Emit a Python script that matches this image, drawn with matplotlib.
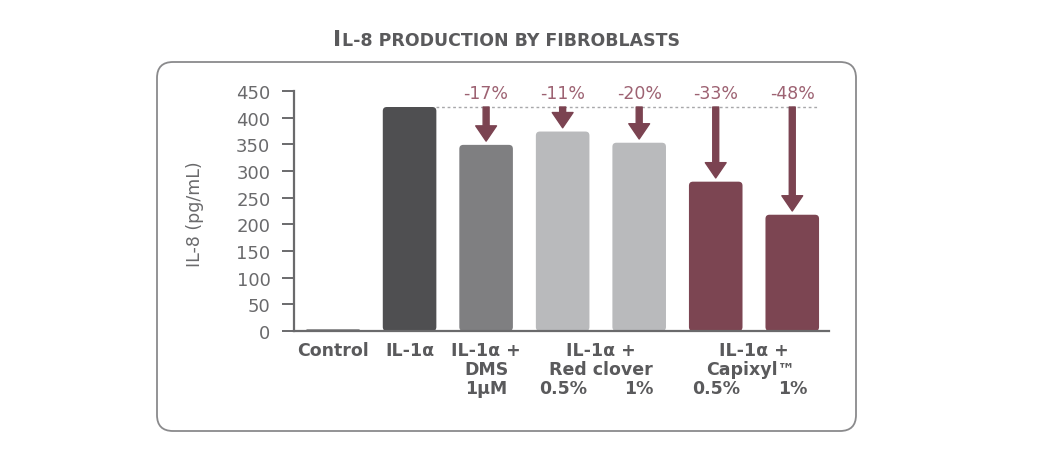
import matplotlib.pyplot as plt
from matplotlib.patches import FancyBboxPatch
from matplotlib.transforms import blended_transform_factory

# values (pg/mL)
groups = ['Control', 'IL-1α', 'DMS 1µM', 'Red clover 0.5%', 'Red clover 1%',
          'Capixyl 0.5%', 'Capixyl 1%']
il8 = [3, 420, 349, 374, 353, 280, 218]
bar_colors = ['#58585a', '#4f4f51', '#7f7f81', '#b9babc', '#b9babc',
              '#7c4552', '#7c4552']
reductions = ['-17%', '-11%', '-20%', '-33%', '-48%']
yticks = [0, 50, 100, 150, 200, 250, 300, 350, 400, 450]

ref_value = il8[1]
grey = '#5a5a5c'
arrow_col = '#7b4351'
pct_col = '#9d6272'

plt.rcParams['font.family'] = ['DejaVu Sans']

fig = plt.figure(figsize=(10.47, 4.6), dpi=100)
ax = fig.add_axes([294 / 1047, 1 - 332 / 460, (829 - 294) / 1047, 240 / 460])

x = list(range(len(groups)))
bars = ax.bar(x, il8, width=0.7, color=bar_colors)

# swap plain rectangles for slightly rounded ones
xpx = 76.5
ypx = 240 / 450
for rect in bars:
    rx, ry = rect.get_x(), rect.get_y()
    w, h = rect.get_width(), rect.get_height()
    r = 4 / xpx
    patch = FancyBboxPatch((rx, ry), w, h,
                           boxstyle='round,pad=0,rounding_size=%f' % min(r, h * ypx / xpx / 2 + 1e-6),
                           mutation_aspect=xpx / ypx,
                           facecolor=rect.get_facecolor(), edgecolor='none')
    rect.remove()
    ax.add_patch(patch)

ax.set_xlim(-0.51, 6.48)
ax.set_ylim(0, 450)
ax.set_yticks(yticks)
ax.set_xticks([])
for s in ['top', 'right']:
    ax.spines[s].set_visible(False)
for s in ['left', 'bottom']:
    ax.spines[s].set_color('#6a6a6c')
    ax.spines[s].set_linewidth(1.6)
ax.tick_params(axis='y', length=9, width=1.4, color='#6a6a6c', pad=8,
               labelsize=13, labelcolor='#6a6a6c')

# dashed reference line at the IL-1a level
ax.plot([1.35, 6.35], [ref_value, ref_value], linestyle=(0, (2, 2)),
        color='#a8a8aa', lw=1.0, clip_on=False)

# arrows and percentage labels
for i, lab in zip(range(2, 7), reductions):
    ax.annotate('', xy=(i, il8[i] + 7), xytext=(i, ref_value),
                arrowprops=dict(arrowstyle='simple,head_width=15,head_length=11,tail_width=4.3',
                                mutation_scale=1, color=arrow_col,
                                shrinkA=0, shrinkB=0))
    ax.text(i, 446, lab, ha='center', va='center', fontsize=12.5,
            color=pct_col, clip_on=False)

# category labels under the axis
tr = blended_transform_factory(ax.transData, ax.transAxes)
rows = [-0.079, -0.158, -0.2375]
lab_kw = dict(ha='center', va='center', fontsize=12.5, fontweight='bold',
              color=grey, transform=tr)
ax.text(0, rows[0], 'Control', **lab_kw)
ax.text(1, rows[0], 'IL-1α', **lab_kw)
ax.text(2, rows[0], 'IL-1α +', **lab_kw)
ax.text(2, rows[1], 'DMS', **lab_kw)
ax.text(2, rows[2], '1µM', **lab_kw)
ax.text(3.5, rows[0], 'IL-1α +', **lab_kw)
ax.text(3.5, rows[1], 'Red clover', **lab_kw)
ax.text(3, rows[2], '0.5%', **lab_kw)
ax.text(4, rows[2], '1%', **lab_kw)
ax.text(5.5, rows[0], 'IL-1α +', **lab_kw)
ax.text(5.45, rows[1], 'Capixyl™', **lab_kw)
ax.text(5, rows[2], '0.5%', **lab_kw)
ax.text(6, rows[2], '1%', **lab_kw)

fig.text(195 / 1047, 1 - 214 / 460, 'IL-8 (pg/mL)', rotation=90,
         ha='center', va='center', fontsize=12.5, color='#6a6a6c')

# rounded frame around the chart
frame = FancyBboxPatch((157 / 1047, 1 - 432 / 460), (856 - 157) / 1047, (432 - 63) / 460,
                       boxstyle='round,pad=0,rounding_size=%f' % (16 / 1047),
                       mutation_aspect=1047 / 460, transform=fig.transFigure,
                       facecolor='none', edgecolor='#8a8a8c', lw=1.3)
fig.patches.append(frame)

# small-caps title
ty = 1 - 46 / 460
t1 = fig.text(0, ty, 'I', fontsize=16, fontweight='bold', color=grey, va='baseline')
t2 = fig.text(0, ty, 'L-8 PRODUCTION BY FIBROBLASTS', fontsize=12.5, fontweight='bold',
              color=grey, va='baseline')
fig.canvas.draw()
w1 = t1.get_window_extent().width
w2 = t2.get_window_extent().width
x0 = 506 - (w1 + w2) / 2
t1.set_x(x0 / 1047)
t2.set_x((x0 + w1 + 1) / 1047)

fig.savefig('out.png', dpi=100)
